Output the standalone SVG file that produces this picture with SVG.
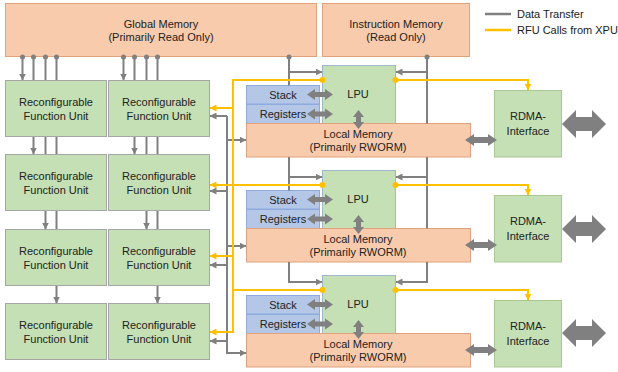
<svg xmlns="http://www.w3.org/2000/svg" width="618" height="372" viewBox="0 0 618 372">
<style>
  text { font-family: "Liberation Sans", Arial, sans-serif; font-size: 11px; fill: #222; text-anchor: middle; }
  .mem { fill: #f8cbad; stroke: #e0a27c; stroke-width: 1; }
  .rfu { fill: #c5e0b4; stroke: #a6a6a6; stroke-width: 1; }
  .lpu { fill: #c5e0b4; stroke: #9db7cf; stroke-width: 1; }
  .rdma { fill: #c5e0b4; stroke: #a9c793; stroke-width: 1; }
  .stk { fill: #b4c7e7; stroke: #8faadc; stroke-width: 1; }
  .gl { fill: none; stroke: #808080; stroke-width: 2; }
  .yl { fill: none; stroke: #ffc000; stroke-width: 2; }
  .ga { marker-end: url(#ahg); }
  .ya { marker-end: url(#ahy); }
  .gdot { fill: #808080; }
  .ydot { fill: #ffc000; }
  .big { fill: #808080; }
</style>
<defs>
  <marker id="ahg" viewBox="0 0 7 7" refX="6.5" refY="3.5" markerWidth="7" markerHeight="7" markerUnits="userSpaceOnUse" orient="auto">
    <path d="M0,0 L7,3.5 L0,7 z" fill="#808080"/>
  </marker>
  <marker id="ahy" viewBox="0 0 7 7" refX="6.5" refY="3.5" markerWidth="7" markerHeight="7" markerUnits="userSpaceOnUse" orient="auto">
    <path d="M0,0 L7,3.5 L0,7 z" fill="#ffc000"/>
  </marker>
</defs>

<!-- memories -->
<g id="global-memory">
  <rect class="mem" x="5.5" y="3.5" width="311" height="53"/>
  <text x="161" y="28">Global Memory</text>
  <text x="161" y="41">(Primarily Read Only)</text>
</g>
<g id="instruction-memory">
  <rect class="mem" x="322.5" y="3.5" width="147" height="53"/>
  <text x="396" y="28">Instruction Memory</text>
  <text x="396" y="41">(Read Only)</text>
</g>

<!-- legend -->
<g id="legend">
  <path d="M485,14 H511" stroke="#808080" stroke-width="2.5"/>
  <path d="M485,30 H511" stroke="#ffc000" stroke-width="2.5"/>
  <text x="517" y="18" style="text-anchor:start">Data Transfer</text>
  <text x="517" y="34" style="text-anchor:start">RFU Calls from XPU</text>
</g>

<!-- reconfigurable function units -->
<g id="rfu-1-1"><rect class="rfu" x="5.5" y="80.5" width="101" height="56"/><text x="56" y="105.5">Reconfigurable</text><text x="56" y="119.5">Function Unit</text></g>
<g id="rfu-1-2"><rect class="rfu" x="108.5" y="80.5" width="101" height="56"/><text x="159" y="105.5">Reconfigurable</text><text x="159" y="119.5">Function Unit</text></g>
<g id="rfu-2-1"><rect class="rfu" x="5.5" y="154.5" width="101" height="56"/><text x="56" y="179.5">Reconfigurable</text><text x="56" y="193.5">Function Unit</text></g>
<g id="rfu-2-2"><rect class="rfu" x="108.5" y="154.5" width="101" height="56"/><text x="159" y="179.5">Reconfigurable</text><text x="159" y="193.5">Function Unit</text></g>
<g id="rfu-3-1"><rect class="rfu" x="5.5" y="229.5" width="101" height="56"/><text x="56" y="254.5">Reconfigurable</text><text x="56" y="268.5">Function Unit</text></g>
<g id="rfu-3-2"><rect class="rfu" x="108.5" y="229.5" width="101" height="56"/><text x="159" y="254.5">Reconfigurable</text><text x="159" y="268.5">Function Unit</text></g>
<g id="rfu-4-1"><rect class="rfu" x="5.5" y="303.5" width="101" height="56"/><text x="56" y="328.5">Reconfigurable</text><text x="56" y="342.5">Function Unit</text></g>
<g id="rfu-4-2"><rect class="rfu" x="108.5" y="303.5" width="101" height="56"/><text x="159" y="328.5">Reconfigurable</text><text x="159" y="342.5">Function Unit</text></g>

<!-- processing tiles: LPU, stack, registers, local memory, RDMA interface -->
<g id="lpu-1"><rect class="lpu" x="322.5" y="65.5" width="73" height="58"/><text x="358" y="97.5">LPU</text></g>
<g id="stack-1"><rect class="stk" x="246.5" y="85.5" width="73" height="18.5"/><text x="283" y="98.5">Stack</text></g>
<g id="registers-1"><rect class="stk" x="246.5" y="104.5" width="73" height="19"/><text x="283" y="118">Registers</text></g>
<g id="local-memory-1"><rect class="mem" x="246.5" y="123.5" width="224" height="33.5"/><text x="358" y="138">Local Memory</text><text x="358" y="151">(Primarily RWORM)</text></g>
<g id="rdma-1"><rect class="rdma" x="494.5" y="90.5" width="67" height="66.5"/><text x="528" y="120">RDMA-</text><text x="528" y="135">Interface</text></g>

<g id="lpu-2"><rect class="lpu" x="322.5" y="170.5" width="73" height="58"/><text x="358" y="202.5">LPU</text></g>
<g id="stack-2"><rect class="stk" x="246.5" y="190.5" width="73" height="18.5"/><text x="283" y="203.5">Stack</text></g>
<g id="registers-2"><rect class="stk" x="246.5" y="209.5" width="73" height="19"/><text x="283" y="223">Registers</text></g>
<g id="local-memory-2"><rect class="mem" x="246.5" y="228.5" width="224" height="33.5"/><text x="358" y="243">Local Memory</text><text x="358" y="256">(Primarily RWORM)</text></g>
<g id="rdma-2"><rect class="rdma" x="494.5" y="195.5" width="67" height="66.5"/><text x="528" y="225">RDMA-</text><text x="528" y="240">Interface</text></g>

<g id="lpu-3"><rect class="lpu" x="322.5" y="275.5" width="73" height="58"/><text x="358" y="307.5">LPU</text></g>
<g id="stack-3"><rect class="stk" x="246.5" y="295.5" width="73" height="18.5"/><text x="283" y="308.5">Stack</text></g>
<g id="registers-3"><rect class="stk" x="246.5" y="314.5" width="73" height="19"/><text x="283" y="328">Registers</text></g>
<g id="local-memory-3"><rect class="mem" x="246.5" y="333.5" width="224" height="33.5"/><text x="358" y="348">Local Memory</text><text x="358" y="361">(Primarily RWORM)</text></g>
<g id="rdma-3"><rect class="rdma" x="494.5" y="300.5" width="67" height="66.5"/><text x="528" y="330">RDMA-</text><text x="528" y="345">Interface</text></g>

<g id="connectors">
  <!-- global memory feeds into RFU columns (visible segments between boxes) -->
  <path class="gl ga" d="M22.5,57 V80"/>
  <path class="gl ga" d="M33.5,57 V80 M33.5,137 V154"/>
  <path class="gl ga" d="M45.5,57 V80 M45.5,137 V154 M45.5,211 V229"/>
  <path class="gl ga" d="M56.5,57 V80 M56.5,137 V154 M56.5,211 V229 M56.5,286 V303"/>
  <path class="gl ga" d="M123.5,57 V80"/>
  <path class="gl ga" d="M134.5,57 V80 M134.5,137 V154"/>
  <path class="gl ga" d="M146.5,57 V80 M146.5,137 V154 M146.5,211 V229"/>
  <path class="gl ga" d="M157.5,57 V80 M157.5,137 V154 M157.5,211 V229 M157.5,286 V303"/>

  <!-- global memory / local memory chain to LPU left sides -->
  <path class="gl" d="M289,57 V85.5"/>
  <path class="gl ga" d="M289,72 H322"/>
  <path class="gl" d="M289,157 V190.5"/>
  <path class="gl ga" d="M289,177 H322"/>
  <path class="gl ga" d="M289,262 V282 H322"/>

  <!-- instruction memory to LPU right sides -->
  <path class="gl" d="M427,57 V123.5"/>
  <path class="gl ga" d="M427,72 H396"/>
  <path class="gl" d="M427,157 V228.5"/>
  <path class="gl ga" d="M427,177 H396"/>
  <path class="gl ga" d="M427,262 V282 H396"/>

  <!-- RFU results bus -->
  <path class="gl ga" d="M227,116 V353 H246"/>
  <path class="gl ga" d="M227,116 H210"/>
  <path class="gl ga" d="M227,191 H210"/>
  <path class="gl ga" d="M227,265 H210"/>
  <path class="gl ga" d="M227,341 H210"/>
  <path class="gl ga" d="M227,140 H246"/>
  <path class="gl ga" d="M227,246 H246"/>

  <!-- RFU call bus -->
  <path class="yl ya" d="M322,80 H233 V332 H210"/>
  <path class="yl ya" d="M233,108 H210"/>
  <path class="yl ya" d="M322,185 H210"/>
  <path class="yl ya" d="M233,256 H210"/>
  <path class="yl" d="M322,290 H233"/>

  <!-- calls from LPU to RDMA -->
  <path class="yl ya" d="M395,80 H528 V90"/>
  <path class="yl ya" d="M395,185 H528 V195"/>
  <path class="yl ya" d="M395,290 H528 V300"/>

  <!-- junction dots -->
  <circle class="gdot" cx="22.5" cy="57" r="2.5"/>
  <circle class="gdot" cx="33.5" cy="57" r="2.5"/>
  <circle class="gdot" cx="45.5" cy="57" r="2.5"/>
  <circle class="gdot" cx="56.5" cy="57" r="2.5"/>
  <circle class="gdot" cx="123.5" cy="57" r="2.5"/>
  <circle class="gdot" cx="134.5" cy="57" r="2.5"/>
  <circle class="gdot" cx="146.5" cy="57" r="2.5"/>
  <circle class="gdot" cx="157.5" cy="57" r="2.5"/>
  <circle class="gdot" cx="289" cy="57" r="2.5"/>
  <circle class="gdot" cx="427" cy="57" r="2.5"/>
  <circle class="ydot" cx="322.5" cy="80" r="3"/>
  <circle class="ydot" cx="395.5" cy="80" r="3"/>
  <circle class="ydot" cx="322.5" cy="185" r="3"/>
  <circle class="ydot" cx="395.5" cy="185" r="3"/>
  <circle class="ydot" cx="322.5" cy="290" r="3"/>
  <circle class="ydot" cx="395.5" cy="290" r="3"/>

  <!-- block double arrows: stack/registers to LPU -->
  <polygon class="big" points="307,94.5 315,89 315,92 325,92 325,89 333,94.5 325,100 325,97 315,97 315,100"/>
  <polygon class="big" points="307,114 315,108.5 315,111.5 325,111.5 325,108.5 333,114 325,119.5 325,116.5 315,116.5 315,119.5"/>
  <polygon class="big" points="307,199.5 315,194 315,197 325,197 325,194 333,199.5 325,205 325,202 315,202 315,205"/>
  <polygon class="big" points="307,219 315,213.5 315,216.5 325,216.5 325,213.5 333,219 325,224.5 325,221.5 315,221.5 315,224.5"/>
  <polygon class="big" points="307,304.5 315,299 315,302 325,302 325,299 333,304.5 325,310 325,307 315,307 315,310"/>
  <polygon class="big" points="307,324 315,318.5 315,321.5 325,321.5 325,318.5 333,324 325,329.5 325,326.5 315,326.5 315,329.5"/>

  <!-- LPU to local memory -->
  <polygon class="big" points="358.5,110 364,117 361,117 361,122 364,122 358.5,129 353,122 356,122 356,117 353,117"/>
  <polygon class="big" points="358.5,215 364,222 361,222 361,227 364,227 358.5,234 353,227 356,227 356,222 353,222"/>
  <polygon class="big" points="358.5,320 364,327 361,327 361,332 364,332 358.5,339 353,332 356,332 356,327 353,327"/>

  <!-- local memory to RDMA -->
  <polygon class="big" points="465,140 474,134 474,137 488,137 488,134 497,140 488,146 488,143 474,143 474,146"/>
  <polygon class="big" points="465,245 474,239 474,242 488,242 488,239 497,245 488,251 488,248 474,248 474,251"/>
  <polygon class="big" points="465,350 474,344 474,347 488,347 488,344 497,350 488,356 488,353 474,353 474,356"/>

  <!-- RDMA external links -->
  <polygon class="big" points="562,124 576,110 576,117 592,117 592,110 606,124 592,138 592,131 576,131 576,138"/>
  <polygon class="big" points="562,229 576,215 576,222 592,222 592,215 606,229 592,243 592,236 576,236 576,243"/>
  <polygon class="big" points="562,333 576,319 576,326 592,326 592,319 606,333 592,347 592,340 576,340 576,347"/>
</g>
</svg>
